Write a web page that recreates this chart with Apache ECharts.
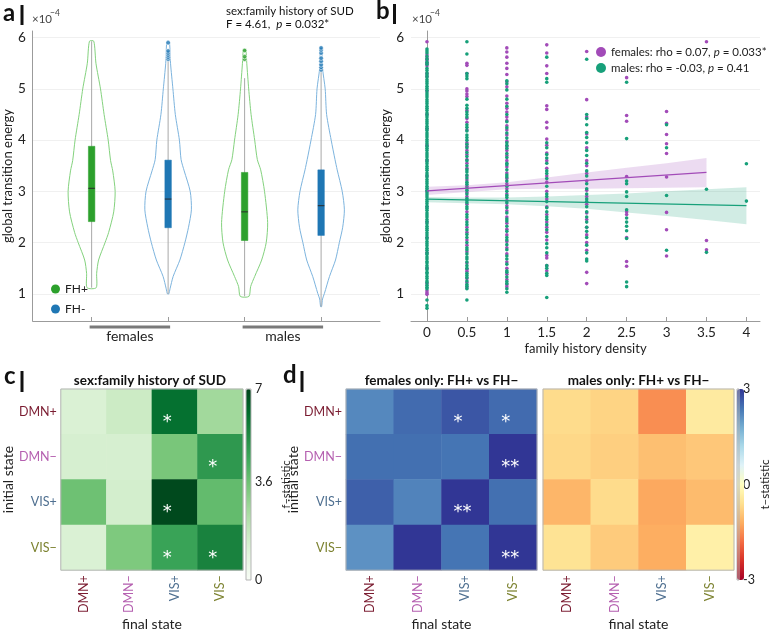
<!DOCTYPE html>
<html><head><meta charset="utf-8">
<script src="https://cdn.jsdelivr.net/npm/echarts@6/dist/echarts.min.js"></script>
<style>html,body{margin:0;padding:0;background:#fff}#c{width:772px;height:632px}</style>
</head><body><div id="c"></div><script>
// ---------------- DATA ----------------
// panel a: groups and violin positions
const groups = ['females', 'males'];
const xFHp = [1, 3];   // FH+ violins (females, males)
const xFHm = [2, 4];   // FH- violins
// KDE profiles: energy (x1e-4) and relative density
const femFHpE = [1.12, 1.4, 1.66, 2.0, 2.2, 2.6, 3.0, 3.4, 3.6, 4.0, 4.5, 5.0, 5.5, 5.93];
const femFHpD = [0.19, 0.21, 0.29, 0.56, 0.71, 0.92, 0.98, 0.88, 0.79, 0.69, 0.52, 0.37, 0.18, 0.09];
const femFHmE = [1.0, 1.1, 1.34, 1.66, 2.0, 2.3, 2.64, 3.0, 3.4, 3.62, 4.0, 4.5, 5.0, 5.5, 5.93];
const femFHmD = [0.03, 0.08, 0.21, 0.49, 0.70, 0.85, 0.97, 0.92, 0.67, 0.54, 0.47, 0.30, 0.20, 0.10, 0.05];
const maleFHpE = [0.95, 1.14, 1.34, 1.66, 2.0, 2.39, 3.0, 3.42, 3.62, 4.0, 4.5, 5.0, 5.5, 5.75];
const maleFHpD = [0.18, 0.25, 0.42, 0.71, 0.90, 0.96, 0.83, 0.67, 0.53, 0.42, 0.27, 0.17, 0.09, 0.05];
const maleFHmE = [0.75, 0.9, 1.01, 1.34, 1.66, 2.0, 2.3, 2.64, 3.0, 3.42, 3.62, 4.0, 4.5, 5.0, 5.4, 5.8];
const maleFHmD = [0.02, 0.06, 0.14, 0.35, 0.60, 0.76, 0.90, 0.97, 0.88, 0.67, 0.58, 0.42, 0.23, 0.17, 0.06, 0.03];
// box stats: [min, q1, median, q3, max]
const boxFHp = [[1.12, 2.41, 3.06, 3.88, 5.93], [0.95, 2.04, 2.60, 3.37, 5.21]];
const boxFHm = [[1.00, 2.29, 2.85, 3.61, 5.54], [0.75, 2.14, 2.72, 3.42, 5.34]];
const outFHp = [[3, 5.58], [3, 5.63], [3, 5.75]];
const outFHm = [[2, 5.58], [2, 5.62], [2, 5.66], [2, 5.70], [2, 5.74], [2, 5.9],
                [4, 5.37], [4, 5.42], [4, 5.47], [4, 5.54], [4, 5.6], [4, 5.7], [4, 5.76], [4, 5.8]];
const energyTicks = [1, 2, 3, 4, 5, 6];

// panel b
const fhDensity = [0, 0.5, 1, 1.5, 2, 2.5, 3, 3.5, 4];
const femalesByDensity = [
  [5.92,5.66,5.6,5.55,5.5,5.45,5.3,5.24,4.96,4.5,4.22,3.9,3.6,3.3,3.0,2.7,2.4,2.1,1.8,1.5,1.2,1.06,1.02,0.99],
  [5.5,5.46,5.3,5.0,4.96,4.9,4.85,4.58,4.42,4.35,4.2,3.95,3.88,3.8,3.72,3.62,3.55,3.45,3.3,3.22,3.1,2.98,2.9,2.75,2.6,2.45,2.3,2.2,2.05,1.95,1.82,1.6,1.48,1.44,1.3,1.22,1.12],
  [5.8,5.72,5.62,5.5,5.4,5.28,5.14,5.04,4.86,4.72,4.62,4.55,4.45,4.38,4.28,4.2,4.1,3.98,3.88,3.8,3.7,3.6,3.48,3.36,3.25,3.15,3.05,2.95,2.82,2.72,2.62,2.5,2.38,2.26,2.15,2.02,1.9,1.78,1.62,1.5,1.38,1.28,1.18,1.14],
  [5.86,5.7,5.45,5.3,4.67,4.6,4.35,4.24,4.02,3.9,3.75,3.6,3.45,3.3,3.18,3.0,2.85,2.7,2.55,2.4,2.3,2.2,2.05,1.75,1.7,1.55,1.45],
  [5.73,4.79,4.45,4.12,3.85,3.6,3.5,3.35,3.2,3.02,2.9,2.75,2.58,2.45,2.3,2.15,2.0,1.85,1.42,1.2],
  [5.22,4.48,4.37,3.29,2.6,2.55,2.1,1.63,1.54],
  [4.56,4.33,4.11,3.93,3.74,3.28,2.59,2.25,1.74],
  [5.92,2.04,1.86],
  []
];
const malesByDensity = [
  [0.72,0.77,0.88,1.1,1.13,1.17,1.22,1.25,1.3,1.34,1.39,1.42,1.47,1.51,1.55,1.6,1.63,1.68,1.72,1.77,1.8,1.85,1.89,1.94,1.98,2.02,2.07,2.1,2.15,2.19,2.24,2.28,2.32,2.37,2.41,2.45,2.5,2.54,2.58,2.63,2.67,2.71,2.76,2.8,2.84,2.89,2.93,2.97,3.02,3.06,3.1,3.15,3.19,3.23,3.28,3.32,3.36,3.41,3.45,3.49,3.54,3.58,3.62,3.67,3.71,3.75,3.8,3.84,3.88,3.93,3.97,4.01,4.06,4.1,4.14,4.19,4.23,4.27,4.32,4.36,4.4,4.45,4.49,4.53,4.58,4.62,4.66,4.71,4.75,4.79,4.84,4.88,4.92,4.97,5.01,5.05,5.1,5.14,5.18,5.23,5.27,5.31,5.36,5.4,5.48,5.52,5.58,5.63,5.7,5.74,5.78],
  [5.92,5.68,5.3,5.25,5.2,4.8,4.68,4.62,4.55,4.5,4.45,4.3,4.25,4.18,4.1,4.05,4.0,3.92,3.85,3.76,3.68,3.6,3.5,3.42,3.38,3.32,3.26,3.18,3.14,3.06,3.02,2.95,2.86,2.82,2.78,2.7,2.66,2.55,2.5,2.4,2.35,2.25,2.16,2.1,2.0,1.9,1.86,1.78,1.72,1.68,1.62,1.55,1.5,1.4,1.36,1.32,1.25,1.18,1.15,1.1,0.88],
  [5.16,5.1,4.98,4.8,4.66,4.5,4.36,4.24,4.14,4.04,3.95,3.9,3.84,3.74,3.66,3.55,3.52,3.42,3.32,3.28,3.2,3.1,3.0,2.92,2.88,2.78,2.68,2.58,2.46,2.42,2.32,2.22,2.1,2.05,1.96,1.86,1.74,1.68,1.58,1.45,1.42,1.33,1.24,1.2,1.1,1.03],
  [5.62,5.2,5.13,3.95,3.85,3.72,3.65,3.55,3.4,3.35,3.25,3.1,2.95,2.9,2.8,2.68,2.6,2.5,2.45,2.35,2.25,2.12,1.98,1.9,1.8,1.55,1.5,1.4,1.36,0.93],
  [5.58,4.5,4.42,4.3,4.15,4.05,3.95,3.8,3.7,3.55,3.4,3.3,3.15,3.05,2.95,2.85,2.8,2.7,2.6,2.5,2.4,2.3,2.22,2.1,1.95,1.8,1.68,1.64],
  [5.13,4.03,3.2,3.15,2.99,2.9,2.64,2.48,2.4,2.32,2.23,2.08,1.23,1.14],
  [4.3,3.85,2.92,1.85],
  [3.04,1.81],
  [3.54,2.81]
];
const femFitX = [0, 3.5], femFitY = [3.01, 3.37];
const maleFitX = [0, 4], maleFitY = [2.85, 2.72];
const femCiX = [0, 0.5, 1, 1.5, 2, 2.5, 3, 3.5];
const femCiHi = [3.09, 3.12, 3.18, 3.27, 3.37, 3.46, 3.55, 3.65];
const femCiLo = [2.93, 2.99, 3.04, 3.05, 3.05, 3.06, 3.07, 3.08];
const maleCiX = [0, 0.5, 1, 1.5, 2, 2.5, 3, 3.5, 4];
const maleCiHi = [2.89, 2.88, 2.88, 2.90, 2.93, 2.96, 3.00, 3.04, 3.08];
const maleCiLo = [2.79, 2.77, 2.75, 2.71, 2.66, 2.59, 2.52, 2.44, 2.36];
const densityTicks = [0, 0.5, 1, 1.5, 2, 2.5, 3, 3.5, 4];

// panels c, d (rows = initial state, cols = final state)
const states = ['DMN+', 'DMN\u2212', 'VIS+', 'VIS\u2212'];
const fStat = [[1.2, 1.6, 6.0, 2.6], [1.3, 1.3, 3.4, 4.9], [3.6, 1.4, 6.9, 3.8], [1.2, 3.3, 4.6, 5.5]];
const fStars = [['', '', '*', ''], ['', '', '', '*'], ['', '', '*', ''], ['', '', '*', '*']];
const tFem = [[2.2, 2.5, 2.7, 2.5], [2.45, 2.45, 2.4, 3.0], [2.6, 2.25, 3.0, 2.45], [2.1, 3.0, 2.4, 3.0]];
const tFemStars = [['', '', '*', '*'], ['', '', '', '**'], ['', '', '**', ''], ['', '', '', '**']];
const tMale = [[-0.65, -0.75, -1.5, -0.4], [-0.7, -0.8, -1.0, -0.9], [-1.1, -0.65, -1.25, -1.05], [-0.55, -0.85, -1.2, -0.3]];
const tMaleStars = [['', '', '', ''], ['', '', '', ''], ['', '', '', ''], ['', '', '', '']];
const fTicks = [0, 3.6, 7];
const tTicks = [-3, 0, 3];

// ---------------- STYLE ----------------
const FONT = 'Lato';
const axisGray = '#9b9b9b';
const green = '#2ca02c', blue = '#1f77b4';
const greenLine = '#84d27e', blueLine = '#7db4de';
const purple = '#a24bb8', teal = '#17a07a';
const stateColors = ['#7a1b30', '#b560b0', '#4e6f90', '#7c8230'];
const greens = ['#f7fcf5', '#e5f5e0', '#c7e9c0', '#a1d99b', '#74c476', '#41ab5d', '#238b45', '#006d2c', '#00441b'];
const rdylbu = ['#a50026', '#d73027', '#f46d43', '#fdae61', '#fee090', '#ffffbf', '#e0f3f8', '#abd9e9', '#74add1', '#4575b4', '#313695'];

const chart = echarts.init(document.getElementById('c'));

function violin(name, E, D, x, stroke) {
  return {
    type: 'custom', name, xAxisIndex: 0, yAxisIndex: 0, z: 3, silent: true,
    itemStyle: { color: name === 'FH+' ? green : blue },
    data: [[x, E[0]]],
    renderItem(params, api) {
      const cx = api.value(0);
      const maxHalf = 24;
      const L = [], R = [];
      for (let i = 0; i < E.length; i++) {
        const p = api.coord([cx, E[i]]);
        L.push([p[0] - D[i] * maxHalf, p[1]]);
        R.push([p[0] + D[i] * maxHalf, p[1]]);
      }
      return { type: 'polygon', shape: { points: L.concat(R.reverse()), smooth: 0.25 },
        style: { fill: 'none', stroke, lineWidth: 1 } };
    }
  };
}
function boxes(name, stats, xs, color) {
  return {
    type: 'custom', name, xAxisIndex: 0, yAxisIndex: 0, z: 4, silent: true,
    itemStyle: { color },
    data: stats.map((s, i) => [xs[i]].concat(s)),
    renderItem(params, api) {
      const x = api.value(0);
      const pMin = api.coord([x, api.value(1)]), pQ1 = api.coord([x, api.value(2)]);
      const pMed = api.coord([x, api.value(3)]), pQ3 = api.coord([x, api.value(4)]);
      const pMax = api.coord([x, api.value(5)]);
      const w = 6.5;
      return { type: 'group', children: [
        { type: 'line', shape: { x1: pMin[0], y1: pMin[1], x2: pMax[0], y2: pMax[1] }, style: { stroke: '#a8a8a8', lineWidth: 1 } },
        { type: 'rect', shape: { x: pQ1[0] - w / 2, y: pQ3[1], width: w, height: pQ1[1] - pQ3[1] }, style: { fill: color, stroke: color, lineWidth: 0.5 } },
        { type: 'line', shape: { x1: pMed[0] - w / 2, y1: pMed[1], x2: pMed[0] + w / 2, y2: pMed[1] }, style: { stroke: '#2a2a2a', lineWidth: 1 } }
      ] };
    }
  };
}
function band(E_x, hi, lo, color) {
  return {
    type: 'custom', xAxisIndex: 1, yAxisIndex: 1, z: 1, silent: true,
    data: [[E_x[0], hi[0]]],
    renderItem(params, api) {
      const top = E_x.map((x, i) => api.coord([x, hi[i]]));
      const bot = E_x.map((x, i) => api.coord([x, lo[i]])).reverse();
      return { type: 'polygon', shape: { points: top.concat(bot) }, style: { fill: color } };
    }
  };
}
function scatterData(byDensity) {
  const out = [];
  byDensity.forEach((ys, i) => ys.forEach(y => out.push([fhDensity[i], y])));
  return out;
}
function heatData(m) {
  const out = [];
  m.forEach((row, r) => row.forEach((v, c) => out.push([c, r, v])));
  return out;
}
const richStates = {};
stateColors.forEach((c, i) => richStates['s' + i] = { color: c, fontSize: 12.5, fontFamily: FONT });
const stateFmt = v => `{s${states.indexOf(v)}|${v}}`;

function heatAxes(gi, showY) {
  return {
    x: { gridIndex: gi, type: 'category', data: states, z: 10,
      axisLine: { show: false }, axisTick: { show: false }, splitLine: { show: false },
      axisLabel: { rotate: 90, margin: 5, formatter: stateFmt, rich: richStates },
      name: 'final state', nameLocation: 'middle', nameGap: 40,
      nameTextStyle: { fontFamily: FONT, fontSize: 14, color: '#222' } },
    y: { gridIndex: gi, type: 'category', data: states, inverse: true,
      axisLine: { show: false }, axisTick: { show: false }, splitLine: { show: false },
      axisLabel: { show: showY, margin: 4, formatter: stateFmt, rich: richStates },
      name: showY ? 'initial state' : '', nameLocation: 'middle', nameGap: 37,
      nameTextStyle: { fontFamily: FONT, fontSize: 14, color: '#222' } }
  };
}
function heatSeries(gi, m, stars) {
  return { type: 'heatmap', xAxisIndex: gi, yAxisIndex: gi, data: heatData(m), silent: true,
    emphasis: { disabled: true },
    label: { show: true, formatter: p => stars[p.data[1]][p.data[0]], color: '#fff',
      fontSize: 18, fontFamily: 'DejaVu Sans', align: 'left', offset: [-12, 10.5] } };
}
const hc = heatAxes(2, true), hd1 = heatAxes(3, true), hd2 = heatAxes(4, false);

const tickFont = { fontFamily: FONT, fontSize: 13.5, color: '#222' };
const nameFont = { fontFamily: FONT, fontSize: 13, color: '#222' };

const option = {
  animation: false,
  backgroundColor: '#fff',
  grid: [
    { left: 31, top: 31, width: 349, height: 290 },
    { left: 411, top: 31, width: 349, height: 290 },
    { left: 52, top: 389, width: 191, height: 191, show: true, z: 10, backgroundColor: 'rgba(0,0,0,0)', borderColor: '#b5b5b5', borderWidth: 1 },
    { left: 346, top: 389, width: 191, height: 191, show: true, z: 10, backgroundColor: 'rgba(0,0,0,0)', borderColor: '#b5b5b5', borderWidth: 1 },
    { left: 543, top: 389, width: 191, height: 191, show: true, z: 10, backgroundColor: 'rgba(0,0,0,0)', borderColor: '#b5b5b5', borderWidth: 1 },
    { left: 246, top: 389, width: 5, height: 191, show: true, z: 10, backgroundColor: 'rgba(0,0,0,0)', borderColor: '#b5b5b5', borderWidth: 1 },
    { left: 737, top: 389, width: 7, height: 191, show: true, z: 10, backgroundColor: 'rgba(0,0,0,0)', borderColor: '#b5b5b5', borderWidth: 1 }
  ],
  xAxis: [
    { gridIndex: 0, type: 'value', min: 0.23, max: 4.77,
      axisLine: { lineStyle: { color: axisGray } },
      axisTick: { inside: true, length: 4, customValues: [1, 2, 3, 4], lineStyle: { color: axisGray } },
      axisLabel: Object.assign({ customValues: [1.5, 3.5], margin: 8, formatter: v => groups[Math.round((v - 1.5) / 2)] }, tickFont, { fontSize: 14 }),
      splitLine: { show: false } },
    { gridIndex: 1, type: 'value', min: -0.2, max: 4.17,
      axisLine: { lineStyle: { color: axisGray } },
      axisTick: { inside: true, length: 4, customValues: densityTicks, lineStyle: { color: axisGray } },
      axisLabel: Object.assign({ customValues: densityTicks, margin: 5 }, tickFont),
      splitLine: { show: false },
      name: 'family history density', nameLocation: 'middle', nameGap: 21, nameTextStyle: nameFont },
    hc.x, hd1.x, hd2.x,
    { gridIndex: 5, type: 'value', show: false },
    { gridIndex: 6, type: 'value', show: false }
  ],
  yAxis: [
    { gridIndex: 0, type: 'value', min: 0.47, max: 6.13,
      axisLine: { show: true, lineStyle: { color: axisGray } },
      axisTick: { show: false, customValues: energyTicks },
      axisLabel: Object.assign({ customValues: energyTicks, margin: 7 }, tickFont),
      splitLine: { show: true, lineStyle: { color: '#f0f0f0' } },
      name: 'global transition energy', nameLocation: 'middle', nameGap: 14, nameTextStyle: nameFont },
    { gridIndex: 1, type: 'value', min: 0.47, max: 6.13,
      axisLine: { show: true, lineStyle: { color: axisGray } },
      axisTick: { show: false, customValues: energyTicks },
      axisLabel: Object.assign({ customValues: energyTicks, margin: 7 }, tickFont),
      splitLine: { show: true, lineStyle: { color: '#f0f0f0' } },
      name: 'global transition energy', nameLocation: 'middle', nameGap: 14, nameTextStyle: nameFont },
    hc.y, hd1.y, hd2.y,
    { gridIndex: 5, type: 'value', min: 0, max: 7, position: 'right',
      axisLine: { show: false }, axisTick: { show: false, customValues: fTicks }, splitLine: { show: false },
      axisLabel: { customValues: fTicks, margin: 4, fontFamily: FONT, fontSize: 12.5, color: '#222' },
      name: 'f\u2013statistic', nameLocation: 'middle', nameRotate: 90, nameGap: 30,
      nameTextStyle: { fontFamily: FONT, fontSize: 11, color: '#222' } },
    { gridIndex: 6, type: 'value', min: -3, max: 3, position: 'right',
      axisLine: { show: false }, axisTick: { show: false, customValues: tTicks }, splitLine: { show: false },
      axisLabel: { customValues: tTicks, margin: 4, fontFamily: FONT, fontSize: 12.5, color: '#222' },
      name: 't\u2013statistic', nameLocation: 'middle', nameRotate: 90, nameGap: 20,
      nameTextStyle: { fontFamily: FONT, fontSize: 11.5, color: '#222' } }
  ],
  visualMap: [
    { type: 'continuous', min: 0, max: 7, dimension: 2, seriesIndex: [12], show: true,
      left: 246, top: 389, itemWidth: 5, itemHeight: 191, padding: 0, calculable: false,
      hoverLink: false, text: null, inRange: { color: greens } },
    { type: 'continuous', min: -3, max: 3, dimension: 2, seriesIndex: [13, 14], show: true,
      left: 737, top: 389, itemWidth: 7, itemHeight: 191, padding: 0, calculable: false,
      hoverLink: false, text: null, inRange: { color: rdylbu } }
  ],
  legend: [
    { data: ['FH+', 'FH-'], left: 46, top: 278, orient: 'vertical', icon: 'circle',
      itemWidth: 9, itemHeight: 9, itemGap: 8, selectedMode: false,
      textStyle: { fontFamily: FONT, fontSize: 12, color: '#222' } },
    { data: ['females', 'males'], left: 596, top: 46, padding: 0, orient: 'vertical', icon: 'circle',
      itemWidth: 10, itemHeight: 10, itemGap: 4, selectedMode: false,
      formatter: n => n === 'females'
        ? '{t|females: rho = 0.07, }{i|p}{t| = 0.033*}'
        : '{t|males: rho = -0.03, }{i|p}{t| = 0.41}',
      textStyle: { rich: {
        t: { fontFamily: FONT, fontSize: 11.5, color: '#222' },
        i: { fontFamily: FONT, fontSize: 11.5, color: '#222', fontStyle: 'italic' } } } }
  ],
  series: [
    violin('FH+', femFHpE, femFHpD, xFHp[0], greenLine),       // 0
    violin('FH-', femFHmE, femFHmD, xFHm[0], blueLine),        // 1
    violin('FH+', maleFHpE, maleFHpD, xFHp[1], greenLine),     // 2
    violin('FH-', maleFHmE, maleFHmD, xFHm[1], blueLine),      // 3
    boxes('FH+', boxFHp, xFHp, green),                          // 4
    boxes('FH-', boxFHm, xFHm, blue),                           // 5
    { type: 'scatter', name: 'FH+', xAxisIndex: 0, yAxisIndex: 0, z: 5, data: outFHp, symbolSize: 4.5, silent: true,
      itemStyle: { color: green, borderColor: '#fff', borderWidth: 0.7 } },   // 6
    { type: 'scatter', name: 'FH-', xAxisIndex: 0, yAxisIndex: 0, z: 5, data: outFHm, symbolSize: 4.5, silent: true,
      itemStyle: { color: blue, borderColor: '#fff', borderWidth: 0.7 } },    // 7
    { type: 'custom', xAxisIndex: 0, yAxisIndex: 0, silent: true, clip: false,
      data: [[xFHp[0], xFHm[0]], [xFHp[1], xFHm[1]]],
      renderItem(params, api) {
        const a = api.coord([api.value(0), 0.47]), b = api.coord([api.value(1), 0.47]);
        return { type: 'line', shape: { x1: a[0] - 2, y1: a[1] + 6, x2: b[0] + 2, y2: b[1] + 6 },
          style: { stroke: '#7a7a7a', lineWidth: 3 } };
      } },                                                       // 8
    { type: 'scatter', name: 'females', xAxisIndex: 1, yAxisIndex: 1, z: 2, symbolSize: 3.6, silent: true,
      data: scatterData(femalesByDensity), itemStyle: { color: purple, opacity: 1 } },  // 9
    { type: 'scatter', name: 'males', xAxisIndex: 1, yAxisIndex: 1, z: 3, symbolSize: 3.6, silent: true,
      data: scatterData(malesByDensity), itemStyle: { color: teal, opacity: 1 } },      // 10
    band(femCiX, femCiHi, femCiLo, 'rgba(162,75,184,0.2)'),     // 11
    heatSeries(2, fStat, fStars),                                // 12
    heatSeries(3, tFem, tFemStars),                              // 13
    heatSeries(4, tMale, tMaleStars),                            // 14
    band(maleCiX, maleCiHi, maleCiLo, 'rgba(23,160,122,0.2)'),  // 15
    { type: 'line', xAxisIndex: 1, yAxisIndex: 1, z: 6, silent: true, symbol: 'none',
      data: femFitX.map((x, i) => [x, femFitY[i]]), lineStyle: { color: purple, width: 1.2 } },
    { type: 'line', xAxisIndex: 1, yAxisIndex: 1, z: 6, silent: true, symbol: 'none',
      data: maleFitX.map((x, i) => [x, maleFitY[i]]), lineStyle: { color: teal, width: 1.2 } }
  ],
  graphic: [
    // panel letters
    { type: 'text', left: 3, top: 1, style: { text: 'a', font: 'bold 24px Lato', fill: '#111' } },
    { type: 'rect', shape: { x: 20.5, y: 5, width: 3, height: 20 }, style: { fill: '#111' } },
    { type: 'text', left: 376, top: -1, style: { text: 'b', font: 'bold 24px Lato', fill: '#111' } },
    { type: 'rect', shape: { x: 393, y: 4, width: 3, height: 20 }, style: { fill: '#111' } },
    { type: 'text', left: 4, top: 364, style: { text: 'c', font: 'bold 24px Lato', fill: '#111' } },
    { type: 'rect', shape: { x: 20.5, y: 371, width: 3, height: 21 }, style: { fill: '#111' } },
    { type: 'text', left: 283, top: 363, style: { text: 'd', font: 'bold 24px Lato', fill: '#111' } },
    { type: 'rect', shape: { x: 300.5, y: 371, width: 3, height: 21 }, style: { fill: '#111' } },
    // x10^-4
    { type: 'text', left: 32, top: 13, style: { text: '\u00d710', font: '11.5px Lato', fill: '#444' } },
    { type: 'text', left: 50, top: 9, style: { text: '\u22124', font: '8.5px Lato', fill: '#444' } },
    { type: 'text', left: 412, top: 13, style: { text: '\u00d710', font: '11.5px Lato', fill: '#444' } },
    { type: 'text', left: 430, top: 9, style: { text: '\u22124', font: '8.5px Lato', fill: '#444' } },
    // panel a stats
    { type: 'text', left: 226, top: 5, style: { text: 'sex:family history of SUD', font: '11.5px Lato', fill: '#111' } },
    { type: 'text', left: 226, top: 18, style: { text: '{t|F = 4.61,  }{i|p}{t| = 0.032*}',
      rich: { t: { font: '11.5px Lato', fill: '#111' }, i: { font: 'italic 11.5px Lato', fill: '#111' } } } },
    // heatmap titles
    { type: 'text', x: 150, y: 381, style: { text: 'sex:family history of SUD', font: 'bold 13.5px Lato', fill: '#111', align: 'center', verticalAlign: 'middle' } },
    { type: 'text', x: 441.5, y: 381, style: { text: 'females only: FH+ vs FH\u2212', font: 'bold 13.5px Lato', fill: '#111', align: 'center', verticalAlign: 'middle' } },
    { type: 'text', x: 638.5, y: 381, style: { text: 'males only: FH+ vs FH\u2212', font: 'bold 13.5px Lato', fill: '#111', align: 'center', verticalAlign: 'middle' } }
  ]
};
chart.setOption(option);
</script></body></html>
